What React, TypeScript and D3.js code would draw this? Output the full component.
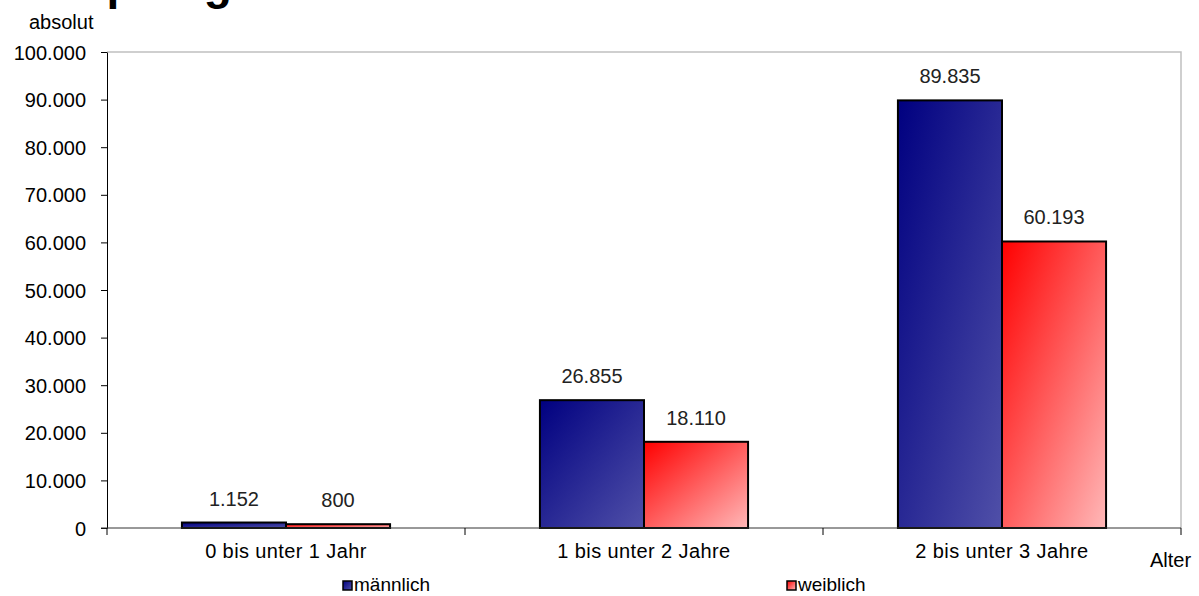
import { useEffect, useRef } from "react";
import * as d3 from "d3";

const categories = ["0 bis unter 1 Jahr", "1 bis unter 2 Jahre", "2 bis unter 3 Jahre"];
const seriesNames = ["männlich", "weiblich"];
const maleValues = [1152, 26855, 89835];
const femaleValues = [800, 18110, 60193];
const yTicks = [0, 10000, 20000, 30000, 40000, 50000, 60000, 70000, 80000, 90000, 100000];

const fmt = (v: number) => d3.format(",")(v).replace(/,/g, ".");

const App = () => {
  const svgRef = useRef<SVGSVGElement>(null);

  useEffect(() => {
    const svg = d3.select(svgRef.current);
    svg.selectAll("*").remove();

    const width = 1199;
    const height = 596;
    const margin = { top: 52, right: 18, bottom: 68, left: 107 };
    const font = "'Liberation Sans', Arial, sans-serif";
    const fs = 20;

    const defs = svg.append("defs");
    const grads = [
      { id: "gBlue", from: "#000080", to: "#5050a8" },
      { id: "gRed", from: "#ff0000", to: "#ffb8b8" }
    ];
    grads.forEach(g => {
      const lg = defs.append("linearGradient")
        .attr("id", g.id)
        .attr("x1", 0).attr("y1", 0).attr("x2", 1).attr("y2", 1);
      lg.append("stop").attr("offset", "0%").attr("stop-color", g.from);
      lg.append("stop").attr("offset", "100%").attr("stop-color", g.to);
    });

    const x = d3.scaleBand()
      .domain(categories)
      .range([margin.left, width - margin.right]);

    const inner = d3.scaleBand()
      .domain(seriesNames)
      .range([0, x.bandwidth()])
      .paddingOuter(0.72)
      .paddingInner(0);

    const y = d3.scaleLinear()
      .domain([0, 100000])
      .range([height - margin.bottom, margin.top]);

    // title, cut off at the top edge in the original
    svg.append("text")
      .attr("x", 35).attr("y", -1)
      .attr("font-family", font).attr("font-weight", "bold").attr("font-size", 46)
      .text("Empfänger");

    svg.append("text")
      .attr("x", 29).attr("y", 29)
      .attr("font-family", font).attr("font-size", fs)
      .text("absolut");

    // plot border (top + right)
    svg.append("path")
      .attr("d", `M${margin.left},${y(100000)}H${width - margin.right}V${y(0)}`)
      .attr("fill", "none").attr("stroke", "#c0c0c0").attr("stroke-width", 1.5);

    const yAxis = svg.append("g")
      .attr("transform", `translate(${margin.left},0)`)
      .call(d3.axisLeft(y).tickValues(yTicks).tickSize(6).tickSizeOuter(0).tickFormat(d => fmt(+d)));
    yAxis.select(".domain").attr("stroke", "#000");
    yAxis.selectAll("text")
      .attr("font-family", font).attr("font-size", fs).attr("fill", "#000")
      .attr("x", -21).attr("dy", "0.35em");

    const data = categories.map((c, i) => ({ cat: c, vals: [maleValues[i], femaleValues[i]] }));

    const groups = svg.append("g").selectAll("g")
      .data(data)
      .join("g")
      .attr("transform", d => `translate(${x(d.cat)},0)`);

    groups.selectAll("rect")
      .data(d => d.vals.map((v, j) => ({ name: seriesNames[j], v, j })))
      .join("rect")
      .attr("x", d => inner(d.name)!)
      .attr("y", d => y(d.v))
      .attr("width", inner.bandwidth())
      .attr("height", d => y(0) - y(d.v))
      .attr("fill", d => d.j === 0 ? "url(#gBlue)" : "url(#gRed)")
      .attr("stroke", "#000").attr("stroke-width", 2);

    groups.selectAll("text.lbl")
      .data(d => d.vals.map((v, j) => ({ name: seriesNames[j], v })))
      .join("text")
      .attr("class", "lbl")
      .attr("x", d => inner(d.name)! + inner.bandwidth() / 2)
      .attr("y", d => y(d.v) - 17)
      .attr("text-anchor", "middle")
      .attr("font-family", font).attr("font-size", fs).attr("fill", "#222")
      .text(d => fmt(d.v));

    // x axis with ticks at category boundaries
    const xAxis = svg.append("g").attr("transform", `translate(0,${y(0)})`);
    xAxis.append("line")
      .attr("x1", margin.left - 6).attr("x2", width - margin.right)
      .attr("stroke", "#333").attr("stroke-width", 1);
    const bounds = [...categories.map(c => x(c)!), width - margin.right];
    xAxis.selectAll("line.tick")
      .data(bounds)
      .join("line")
      .attr("class", "tick")
      .attr("x1", d => d).attr("x2", d => d)
      .attr("y1", 0).attr("y2", 7)
      .attr("stroke", "#000");
    xAxis.selectAll("text")
      .data(categories)
      .join("text")
      .attr("x", d => x(d)! + x.bandwidth() / 2)
      .attr("y", 30)
      .attr("text-anchor", "middle")
      .attr("font-family", font).attr("font-size", fs).attr("fill", "#000")
      .attr("letter-spacing", 0.4)
      .text(d => d);

    svg.append("text")
      .attr("x", 1150).attr("y", 567)
      .attr("font-family", font).attr("font-size", fs)
      .text("Alter");

    // legend
    const legendX = [343, 787];
    const legend = svg.append("g").selectAll("g")
      .data(seriesNames)
      .join("g")
      .attr("transform", (d, i) => `translate(${legendX[i]},581)`);
    legend.append("rect")
      .attr("width", 9).attr("height", 9)
      .attr("fill", (d, i) => i === 0 ? "url(#gBlue)" : "url(#gRed)")
      .attr("stroke", "#000").attr("stroke-width", 1.5);
    legend.append("text")
      .attr("x", 11).attr("y", 9.5)
      .attr("font-family", font).attr("font-size", 19)
      .text(d => d);
  }, []);

  return (
    <svg ref={svgRef} width={1199} height={596}
      style={{ position: "absolute", left: 0, top: 0, background: "#fff" }} />
  );
};

export default App;
